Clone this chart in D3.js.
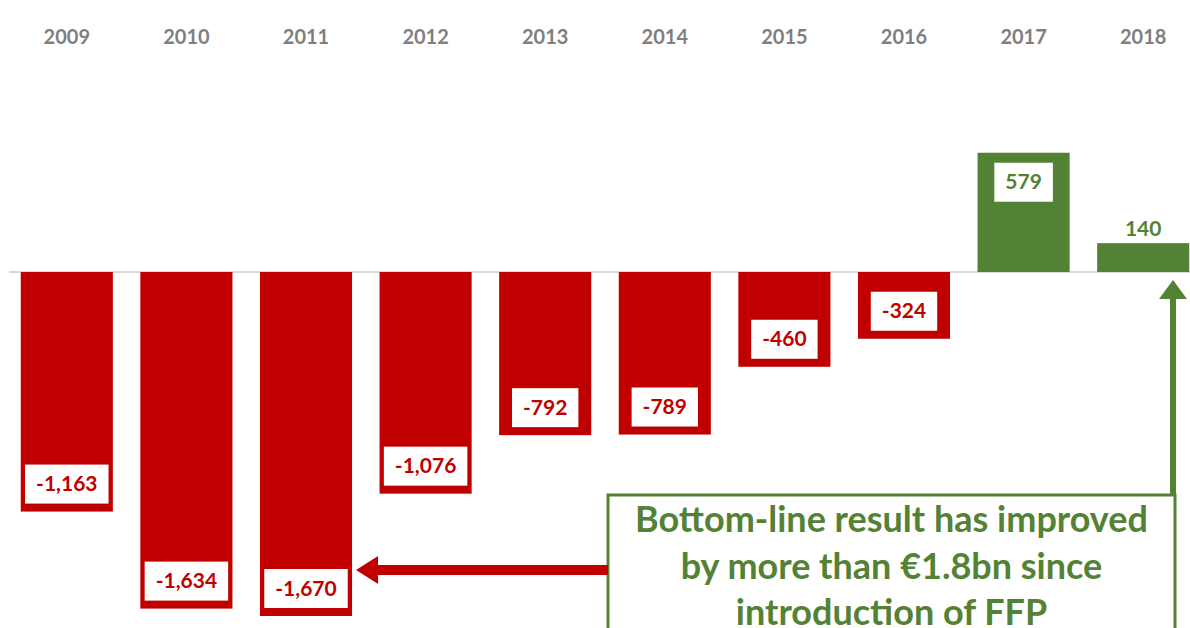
<!DOCTYPE html>
<html>
<head>
<meta charset="utf-8">
<script src="https://cdn.jsdelivr.net/npm/d3@7"></script>
<style>
  body { margin: 0; background: #fff; }
  svg { display: block; font-family: Lato, "Open Sans", sans-serif; }
</style>
</head>
<body>
<div id="chart"></div>
<script>
// data
var years = ["2009", "2010", "2011", "2012", "2013", "2014", "2015", "2016", "2017", "2018"]
var results = [-1163, -1634, -1670, -1076, -792, -789, -460, -324, 579, 140]
var noteLines = ["Bottom-line result has improved", "by more than \u20ac1.8bn since", "introduction of FFP"]

var config = {
  width: 1190,
  height: 628,
  red: "#c00000",
  green: "#548235",
  grey: "#7f7f7f"
}

var svg = d3.select("#chart").append("svg")
    .attr("width", config.width)
    .attr("height", config.height)

var x = d3.scaleBand().domain(years).range([7, 1203]).paddingInner(0.23).paddingOuter(0.115)
var y = d3.scaleLinear().domain([-1800, 700]).range([272 + 1800 * 0.206, 272 - 700 * 0.206])

// plain hyphen for negatives, like the source
var fmt = d3.formatLocale({ decimal: ".", thousands: ",", grouping: [3], currency: ["", ""], minus: "-" }).format(",")
var color = function(v){ return v < 0 ? config.red : config.green }

// year labels along the top
svg.selectAll(".year")
    .data(years)
  .enter().append("text")
    .attr("class", "year")
    .attr("x", function(d){ return x(d) + x.bandwidth() / 2 })
    .attr("y", 44)
    .attr("text-anchor", "middle")
    .attr("font-size", 20)
    .attr("font-weight", "bold")
    .attr("fill", config.grey)
    .text(function(d){ return d })

// zero line
svg.append("line")
    .attr("x1", 9).attr("x2", config.width)
    .attr("y1", y(0)).attr("y2", y(0))
    .attr("stroke", "#d9d9d9")
    .attr("stroke-width", 2)

var bar = svg.selectAll(".bar")
    .data(results)
  .enter().append("g")
    .attr("class", "bar")
    .attr("transform", function(d, i){ return "translate(" + x(years[i]) + ",0)" })

bar.append("rect")
    .attr("x", 0)
    .attr("width", x.bandwidth())
    .attr("y", function(d){ return y(Math.max(0, d)) })
    .attr("height", function(d){ return Math.abs(y(d) - y(0)) })
    .attr("fill", color)

// value labels: white box inside bar, plain text when bar too short
bar.each(function(d){
  var g = d3.select(this)
  var cx = x.bandwidth() / 2
  var boxH = 39
  var big = Math.abs(y(d) - y(0)) > boxH + 20
  var box = g.append("rect").attr("fill", "#fff")
  var label = g.append("text")
      .attr("x", cx)
      .attr("text-anchor", "middle")
      .attr("font-size", 21)
      .attr("font-weight", "bold")
      .attr("fill", color(d))
      .text(fmt(d))
  var w = label.node().getComputedTextLength() + 22
  var top
  if (!big){
    box.remove()
    label.attr("y", y(d) - 7)
    return
  }
  top = d < 0 ? y(d) - 8 - boxH : y(d) + 10
  box.attr("x", cx - w / 2).attr("width", w).attr("y", top).attr("height", boxH)
  label.attr("y", top + boxH / 2 + 7)
})

// annotation box
var note = { x: 608, y: 495, w: 567, h: 160 }
svg.append("rect")
    .attr("x", note.x).attr("y", note.y)
    .attr("width", note.w).attr("height", note.h)
    .attr("fill", "#fff")
    .attr("stroke", config.green)
    .attr("stroke-width", 3)

svg.selectAll(".note")
    .data(noteLines)
  .enter().append("text")
    .attr("class", "note")
    .attr("x", note.x + note.w / 2)
    .attr("y", function(d, i){ return 532 + i * 46.5 })
    .attr("text-anchor", "middle")
    .attr("font-size", 36)
    .attr("font-weight", "bold")
    .attr("fill", config.green)
    .text(function(d){ return d })

// red arrow pointing at the 2011 low
var ay = 570
var tip = x("2011") + x.bandwidth() + 4
svg.append("path")
    .attr("d", "M" + note.x + "," + (ay - 5) + "H" + (tip + 22) + "V" + (ay - 14) +
      "L" + tip + "," + ay + "L" + (tip + 22) + "," + (ay + 14) + "V" + (ay + 5) + "H" + note.x + "Z")
    .attr("fill", config.red)

// green arrow up to the 2018 result
var gx = note.x + note.w - 2
var gtip = y(0) + 8
svg.append("path")
    .attr("d", "M" + (gx - 3) + "," + note.y + "V" + (gtip + 19) + "H" + (gx - 14) +
      "L" + gx + "," + gtip + "L" + (gx + 14) + "," + (gtip + 19) + "H" + (gx + 3) + "V" + note.y + "Z")
    .attr("fill", config.green)
</script>
</body>
</html>
